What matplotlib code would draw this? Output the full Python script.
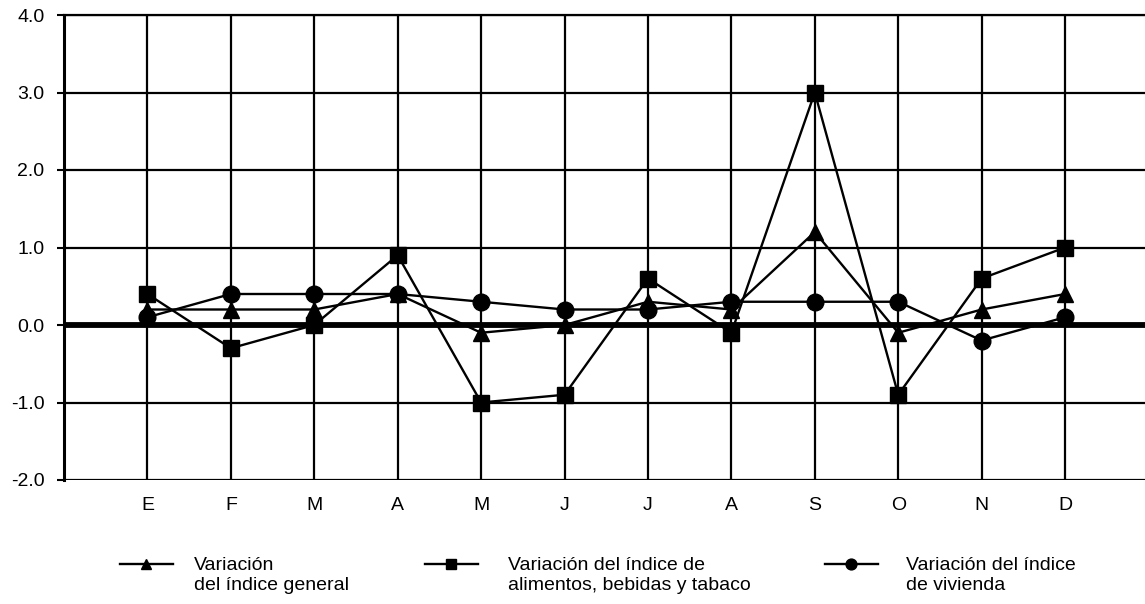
import matplotlib
matplotlib.use("Agg")
import matplotlib.pyplot as plt
from matplotlib.legend_handler import HandlerLine2D
import numpy as np

plt.rcParams['font.family'] = ['Liberation Sans', 'DejaVu Sans']

# meses
meses = ["E", "F", "M", "A", "M", "J", "J", "A", "S", "O", "N", "D"]

# variaciones mensuales (%)
general = [0.2, 0.2, 0.2, 0.4, -0.1, 0.0, 0.3, 0.2, 1.2, -0.1, 0.2, 0.4]
alimentos = [0.4, -0.3, 0.0, 0.9, -1.0, -0.9, 0.6, -0.1, 3.0, -0.9, 0.6, 1.0]
vivienda = [0.1, 0.4, 0.4, 0.4, 0.3, 0.2, 0.2, 0.3, 0.3, 0.3, -0.2, 0.1]

lab_general = "Variación\ndel índice general"
lab_alimentos = "Variación del índice de\nalimentos, bebidas y tabaco"
lab_vivienda = "Variación del índice\nde vivienda"

yticks = [-2.0, -1.0, 0.0, 1.0, 2.0, 3.0, 4.0]


class HandlerArriba(HandlerLine2D):
    # sube el simbolo a la altura de la primera linea del texto
    def __init__(self, dy, **kw):
        super().__init__(**kw)
        self.dy = dy

    def create_artists(self, legend, orig_handle, xdescent, ydescent,
                       width, height, fontsize, trans):
        arts = super().create_artists(legend, orig_handle, xdescent, ydescent,
                                      width, height, fontsize, trans)
        for a in arts:
            a.set_ydata(np.asarray(a.get_ydata()) + self.dy)
        return arts


fig = plt.figure(figsize=(11.45, 6.04), dpi=100)
ax = fig.add_axes([64 / 1145, 1 - 480 / 604, (1148.5 - 64) / 1145, 465 / 604])

x = np.arange(len(meses))

l1, = ax.plot(x, general, color="black", lw=1.7, marker="^", ms=11, zorder=4)
l2, = ax.plot(x, alimentos, color="black", lw=1.7, marker="s", ms=12, zorder=4)
l3, = ax.plot(x, vivienda, color="black", lw=1.7, marker="o", ms=12, zorder=4)

ax.axhline(0, color="black", lw=4.2, zorder=3)

ax.set_xlim(-1, 12)
ax.set_ylim(-2, 4)
ax.set_yticks(yticks)
ax.set_yticklabels(["%.1f" % v for v in yticks])
ax.set_xticks(x)
ax.set_xticklabels(meses)
ax.tick_params(axis="y", length=5, width=1.5, pad=9, labelsize=14)
ax.tick_params(axis="x", length=0, pad=12, labelsize=14)
ax.grid(True, color="black", lw=1.6, zorder=1)
ax.set_axisbelow(True)

for s in ["right", "bottom"]:
    ax.spines[s].set_visible(False)
ax.spines["top"].set_linewidth(1.6)
ax.spines["left"].set_linewidth(2.2)

# leyenda: tres bloques separados
entradas = [(l1, lab_general, 120, 1.1),
            (l2, lab_alimentos, 425, 1.55),
            (l3, lab_vivienda, 825, 1.45)]
for h, lab, x0, pad in entradas:
    fig.legend([h], [lab], loc="upper left",
               bbox_to_anchor=(x0 / 1145, 1 - 557 / 604),
               frameon=False, fontsize=14, handlelength=2.7, handletextpad=pad,
               borderpad=0, borderaxespad=0, markerscale=0.65,
               handler_map={h: HandlerArriba(dy=8)})

fig.savefig("out.png", dpi=100)
